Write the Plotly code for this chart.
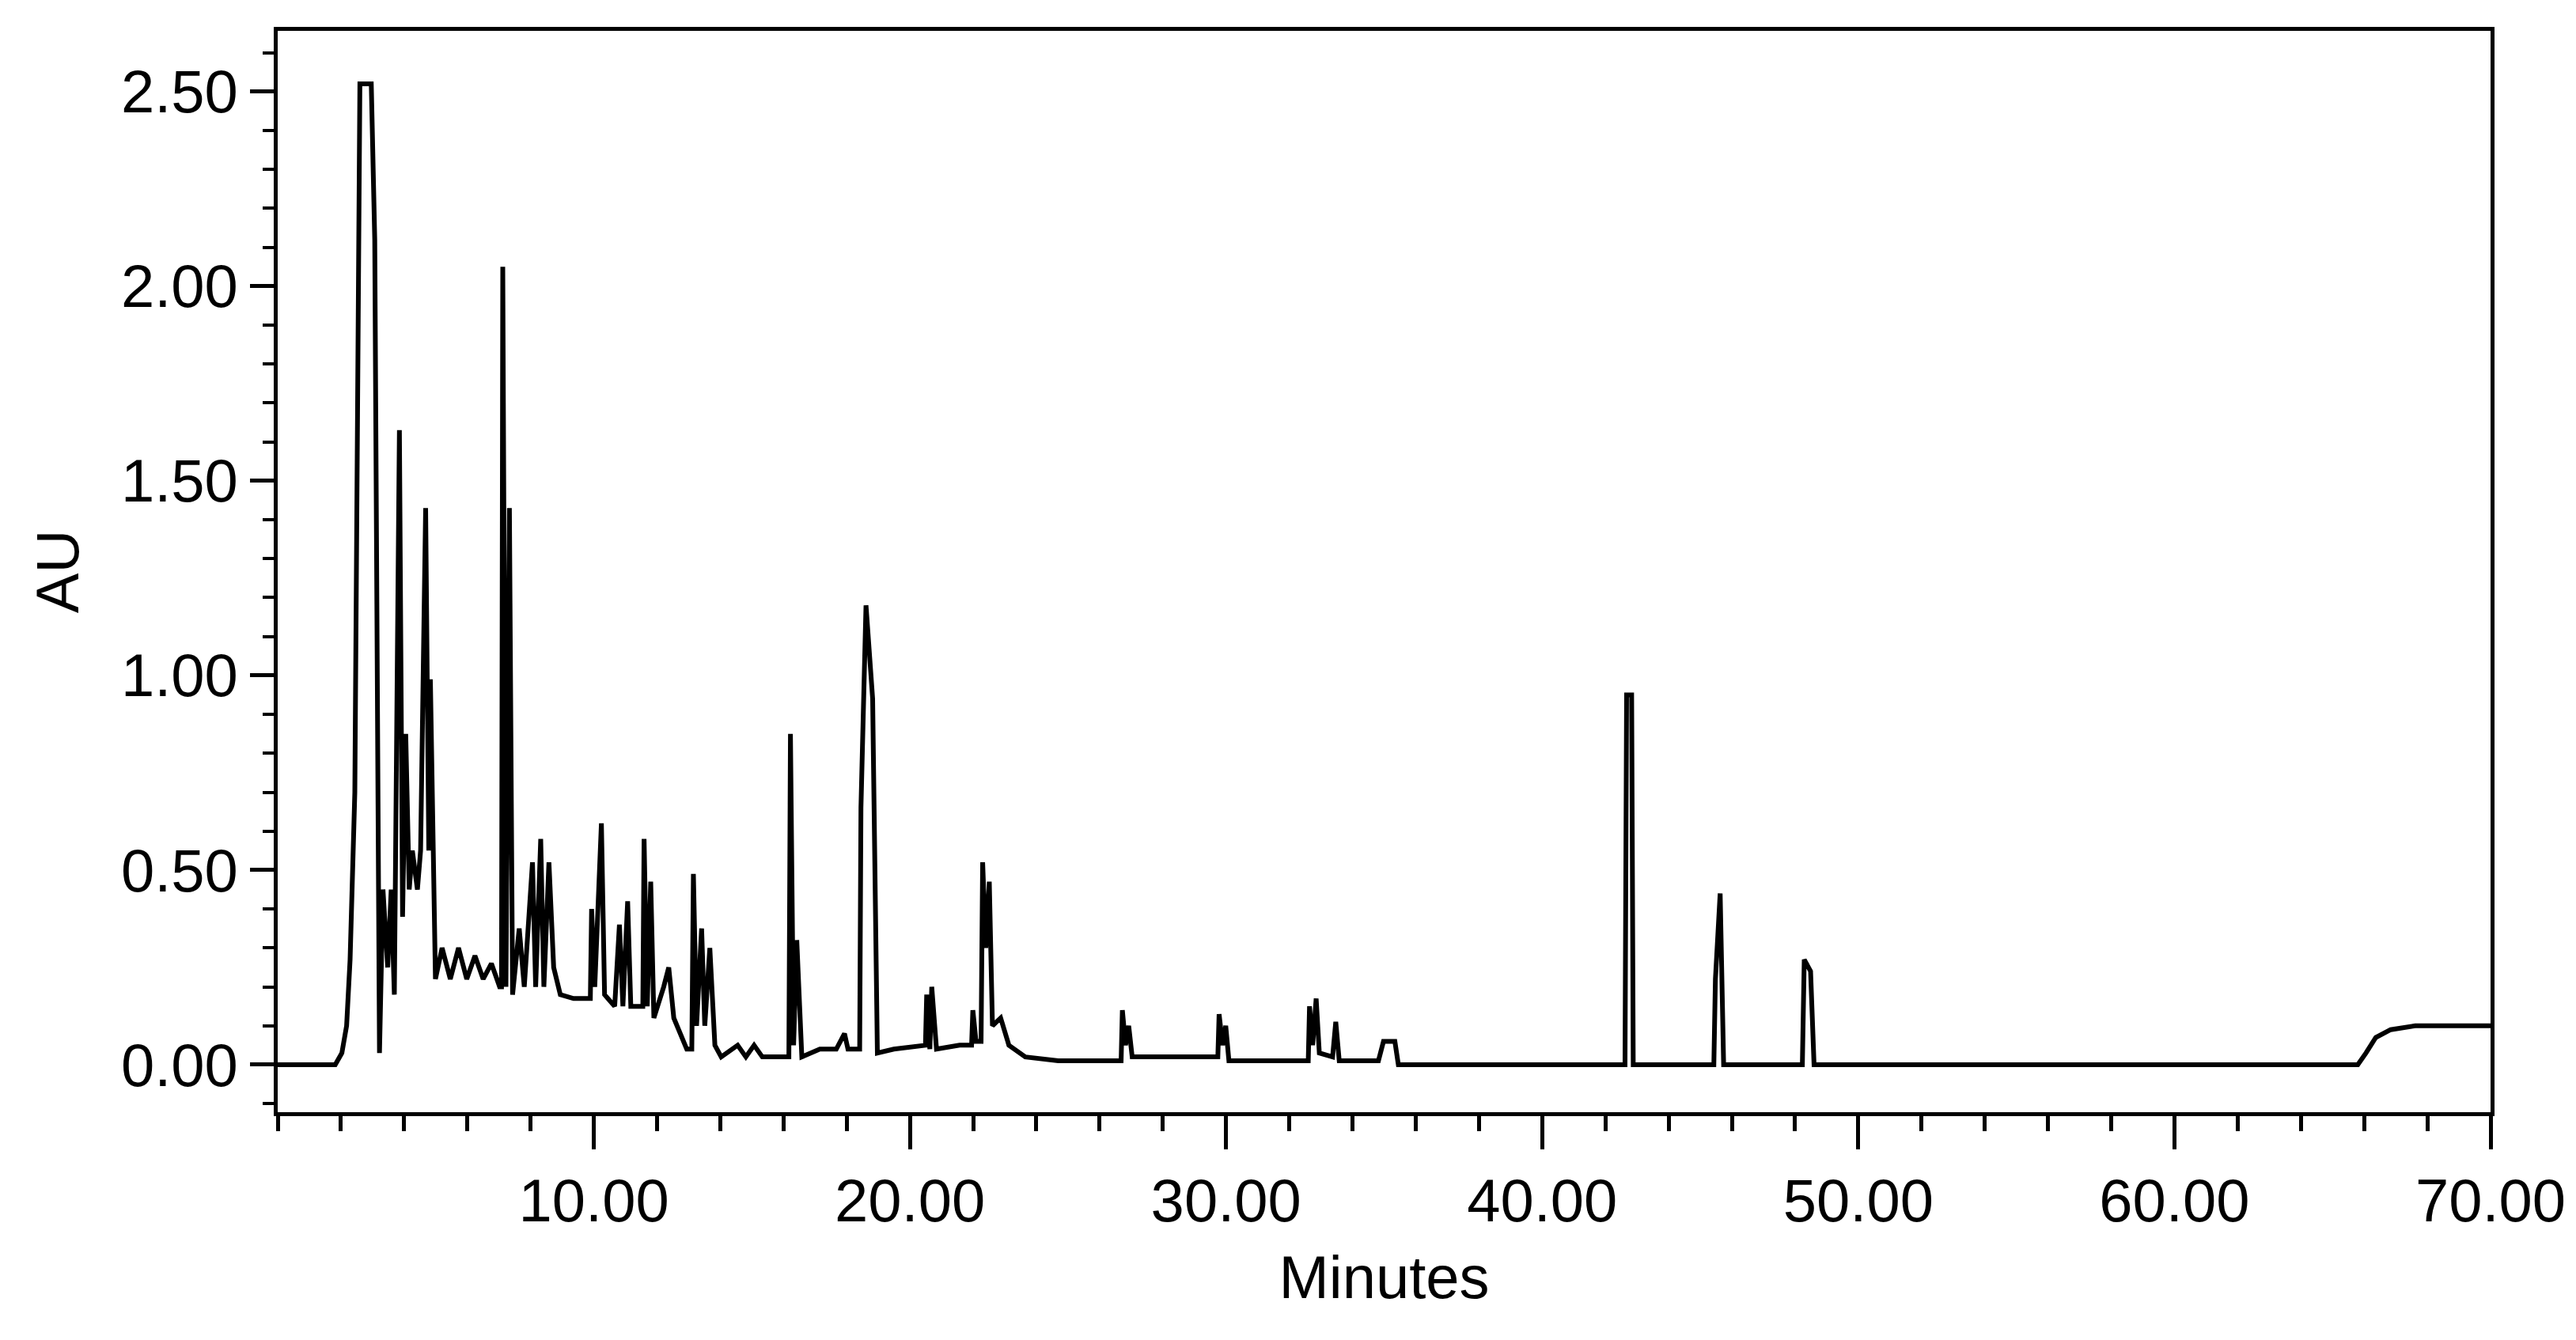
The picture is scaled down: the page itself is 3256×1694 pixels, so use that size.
import plotly.graph_objects as go

minutes = [0.0, 1.82, 2.03, 2.18, 2.29, 2.44, 2.60, 2.96, 3.07, 3.22, 3.33, 3.48, 3.59, 3.69, 3.85, 3.95,
           4.05, 4.16, 4.26, 4.42, 4.52, 4.68, 4.78, 4.83, 4.99, 5.20, 5.46, 5.72, 5.98, 6.24, 6.50,
           6.76, 7.02, 7.08, 7.12, 7.22, 7.33, 7.43, 7.64, 7.80, 8.06, 8.16, 8.32, 8.42, 8.58, 8.73, 8.94,
           9.36, 9.72, 9.89, 9.93, 10.03, 10.14, 10.24, 10.34, 10.66, 10.81, 10.92, 11.07, 11.17, 11.43,
           11.55, 11.59, 11.69, 11.80, 11.90, 12.21, 12.37, 12.53, 12.73, 12.94, 13.10, 13.15, 13.25, 13.41, 13.51,
           13.67, 13.83, 14.03, 14.55, 14.81, 15.07, 15.33, 15.85, 16.17, 16.22, 16.32, 16.42, 16.58, 17.15,
           17.67, 17.93, 18.04, 18.35, 18.41, 18.45, 18.61, 18.82, 18.97, 19.49, 20.27, 20.49, 20.53, 20.63, 20.69,
           20.84, 21.57, 21.95, 21.99, 22.09, 22.25, 22.30, 22.40, 22.51, 22.61, 22.87, 23.13, 23.65, 24.69, 25.73,
           26.56, 26.68, 26.72, 26.82, 26.92, 27.03, 29.63, 29.74, 29.78, 29.89, 29.99, 30.09, 32.48, 32.60, 32.64, 32.74,
           32.85, 32.95, 33.37, 33.47, 33.58, 34.82, 34.98, 35.34, 35.45, 42.62, 42.67, 42.83, 42.88,
           45.43, 45.48, 45.63, 45.74, 48.23, 48.29, 48.49, 48.60, 65.80, 66.06, 66.37, 66.84, 67.62, 70.0]
au = [0.0, 0.0, 0.03, 0.1, 0.27, 0.7, 2.52, 2.52, 2.12, 0.03, 0.45, 0.25, 0.45, 0.18, 1.63, 0.38,
      0.85, 0.45, 0.55, 0.45, 0.55, 1.43, 0.55, 0.99, 0.22, 0.3, 0.22, 0.3, 0.22, 0.28, 0.22,
      0.26, 0.2, 0.2, 2.05, 0.2, 1.43, 0.18, 0.35, 0.2, 0.52, 0.2, 0.58, 0.2, 0.52, 0.25, 0.18,
      0.17, 0.17, 0.17, 0.4, 0.2, 0.42, 0.62, 0.18, 0.15, 0.36, 0.15, 0.42, 0.15, 0.15,
      0.15, 0.58, 0.15, 0.47, 0.12, 0.2, 0.25, 0.12, 0.08, 0.04, 0.04, 0.49, 0.1, 0.35, 0.1,
      0.3, 0.05, 0.02, 0.05, 0.02, 0.05, 0.02, 0.02, 0.02, 0.85, 0.05, 0.32, 0.02, 0.04,
      0.04, 0.08, 0.04, 0.04, 0.04, 0.66, 1.18, 0.94, 0.03, 0.04, 0.05, 0.05, 0.18, 0.04, 0.2,
      0.04, 0.05, 0.05, 0.14, 0.06, 0.06, 0.52, 0.3, 0.47, 0.1, 0.12, 0.05, 0.02, 0.01, 0.01,
      0.01, 0.01, 0.14, 0.05, 0.1, 0.02, 0.02, 0.02, 0.13, 0.05, 0.1, 0.01, 0.01, 0.01, 0.15, 0.05,
      0.17, 0.03, 0.02, 0.11, 0.01, 0.01, 0.06, 0.06, 0.0, 0.0, 0.95, 0.95, 0.0,
      0.0, 0.22, 0.44, 0.0, 0.0, 0.27, 0.24, 0.0, 0.0, 0.03, 0.07, 0.09, 0.1, 0.1]

x_ticks = [10, 20, 30, 40, 50, 60, 70]
y_ticks = [0.0, 0.5, 1.0, 1.5, 2.0, 2.5]

font = dict(family="Liberation Sans, Arial, sans-serif", size=76, color="black")

fig = go.Figure(go.Scatter(x=minutes, y=au, mode="lines",
                           line=dict(color="black", width=6, shape="linear")))

fig.update_layout(
    width=3256, height=1694,
    margin=dict(l=343, r=116, t=31, b=296),
    paper_bgcolor="white", plot_bgcolor="white",
    font=font, showlegend=False,
)
fig.update_xaxes(
    range=[0, 70], tickvals=x_ticks, ticktext=[f"{v:.2f}" for v in x_ticks],
    ticks="outside", ticklen=42, tickwidth=5, tickcolor="black",
    minor=dict(dtick=2, tick0=0, ticks="outside", ticklen=19, tickwidth=5, tickcolor="black"),
    showline=True, linewidth=5, linecolor="black", mirror=True, showgrid=False, zeroline=False,
    title=dict(text="Minutes", font=font, standoff=30),
)
fig.update_yaxes(
    range=[-0.122, 2.656], tickvals=y_ticks, ticktext=[f"{v:.2f}" for v in y_ticks],
    ticks="outside", ticklen=30, tickwidth=5, tickcolor="black",
    minor=dict(dtick=0.1, tick0=0, ticks="outside", ticklen=14, tickwidth=4, tickcolor="black"),
    showline=True, linewidth=5, linecolor="black", mirror=True, showgrid=False, zeroline=False,
    title=dict(text="AU", font=font, standoff=30),
)
fig.write_html("out.html")
